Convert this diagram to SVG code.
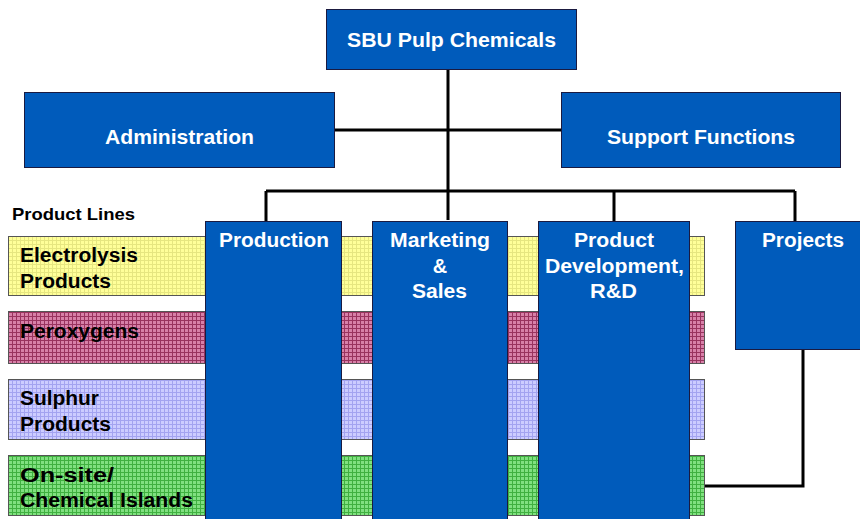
<svg xmlns="http://www.w3.org/2000/svg" width="860" height="519" viewBox="0 0 860 519">
<defs>
<pattern id="pY" width="4" height="4" patternUnits="userSpaceOnUse"><rect width="4" height="4" fill="#FFFF99"/><path d="M0 0.5H4M0.5 0V4" stroke="#E6E680" stroke-width="1"/></pattern>
<pattern id="pP" width="4" height="4" patternUnits="userSpaceOnUse"><rect width="4" height="4" fill="#D780A8"/><path d="M0 0.5H4M0.5 0V4" stroke="#99335F" stroke-width="1"/></pattern>
<pattern id="pL" width="4" height="4" patternUnits="userSpaceOnUse"><rect width="4" height="4" fill="#CCCCFF"/><path d="M0 0.5H4M0.5 0V4" stroke="#A3A3F0" stroke-width="1"/></pattern>
<pattern id="pG" width="4" height="4" patternUnits="userSpaceOnUse"><rect width="4" height="4" fill="#80E080"/><path d="M0 0.5H4M0.5 0V4" stroke="#40B040" stroke-width="1"/></pattern>
</defs>
<style>
.box{fill:#005BBB;stroke:#1a1a40;stroke-width:1}
.band{stroke:#555;stroke-width:1}
.wt{font-family:"Liberation Sans",Arial,sans-serif;font-weight:bold;fill:#fff;text-anchor:middle}
.bt{font-family:"Liberation Sans",Arial,sans-serif;font-weight:bold;fill:#000}
.ln{stroke:#000;stroke-width:3;fill:none}
</style>
<rect width="860" height="519" fill="#fff"/>
<text class="bt" x="12" y="220" font-size="16.5" textLength="123" lengthAdjust="spacingAndGlyphs">Product Lines</text>
<g id="band-electrolysis"><rect class="band" x="8.5" y="236.5" width="696" height="59" fill="url(#pY)"/><text class="bt" x="20" y="262" font-size="20" textLength="118" lengthAdjust="spacingAndGlyphs">Electrolysis</text><text class="bt" x="20" y="288" font-size="20" textLength="91" lengthAdjust="spacingAndGlyphs">Products</text></g>
<g id="band-peroxygens"><rect class="band" x="8.5" y="311.5" width="696" height="52" fill="url(#pP)"/><text class="bt" x="20" y="338" font-size="20" textLength="119" lengthAdjust="spacingAndGlyphs">Peroxygens</text></g>
<g id="band-sulphur"><rect class="band" x="8.5" y="379.5" width="696" height="60" fill="url(#pL)"/><text class="bt" x="20" y="405" font-size="20" textLength="79" lengthAdjust="spacingAndGlyphs">Sulphur</text><text class="bt" x="20" y="431" font-size="20" textLength="91" lengthAdjust="spacingAndGlyphs">Products</text></g>
<g id="band-onsite"><rect class="band" x="8.5" y="455.5" width="696" height="60" fill="url(#pG)"/><text class="bt" x="20" y="482" font-size="20" textLength="94" lengthAdjust="spacingAndGlyphs">On-site/</text><text class="bt" x="20" y="507" font-size="20" textLength="173" lengthAdjust="spacingAndGlyphs">Chemical Islands</text></g>
<g id="connectors">
<path class="ln" d="M448 69V220M334 130H561M266 191H795M266 191V221M614 191V221M795 191V221"/>
<path class="ln" d="M803 349V486H705"/>
</g>
<g id="sbu"><rect class="box" x="326.5" y="9.5" width="250" height="60"/><text class="wt" x="451.5" y="47" font-size="20.5" textLength="209" lengthAdjust="spacingAndGlyphs">SBU Pulp Chemicals</text></g>
<g id="admin"><rect class="box" x="24.5" y="92.5" width="310" height="75"/><text class="wt" x="179.5" y="144" font-size="20.5" textLength="149" lengthAdjust="spacingAndGlyphs">Administration</text></g>
<g id="support"><rect class="box" x="561.5" y="92.5" width="279" height="75"/><text class="wt" x="701" y="144" font-size="20.5" textLength="188" lengthAdjust="spacingAndGlyphs">Support Functions</text></g>
<g id="production"><rect class="box" x="205.5" y="221.5" width="136" height="300"/><text class="wt" x="274" y="247" font-size="20" textLength="110" lengthAdjust="spacingAndGlyphs">Production</text></g>
<g id="marketing"><rect class="box" x="372.5" y="221.5" width="135" height="300"/><text class="wt" x="440" y="247" font-size="20" textLength="100" lengthAdjust="spacingAndGlyphs">Marketing</text><text class="wt" x="440" y="273" font-size="20">&amp;</text><text class="wt" x="439.5" y="298" font-size="20" textLength="55" lengthAdjust="spacingAndGlyphs">Sales</text></g>
<g id="productdev"><rect class="box" x="538.5" y="221.5" width="151" height="300"/><text class="wt" x="614" y="247" font-size="20" textLength="80" lengthAdjust="spacingAndGlyphs">Product</text><text class="wt" x="614.5" y="273" font-size="20" textLength="139" lengthAdjust="spacingAndGlyphs">Development,</text><text class="wt" x="613.5" y="298" font-size="20" textLength="47" lengthAdjust="spacingAndGlyphs">R&amp;D</text></g>
<g id="projects"><rect class="box" x="735.5" y="221.5" width="130" height="128"/><text class="wt" x="803" y="247" font-size="20" textLength="82" lengthAdjust="spacingAndGlyphs">Projects</text></g>
</svg>
